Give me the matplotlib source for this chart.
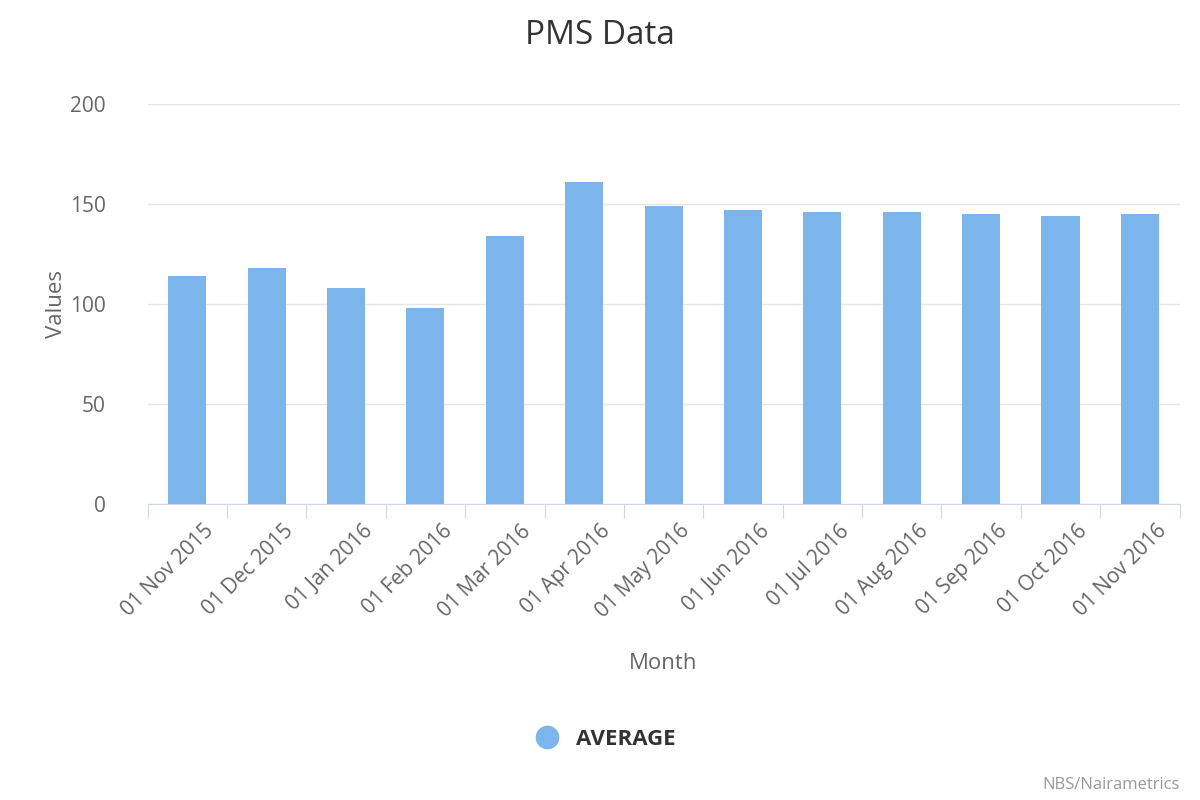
import matplotlib
matplotlib.use("Agg")
import matplotlib.pyplot as plt
from matplotlib.lines import Line2D

plt.rcParams['font.family'] = ['Open Sans', 'DejaVu Sans']

months = ["01 Nov 2015","01 Dec 2015","01 Jan 2016","01 Feb 2016","01 Mar 2016","01 Apr 2016",
          "01 May 2016","01 Jun 2016","01 Jul 2016","01 Aug 2016","01 Sep 2016","01 Oct 2016","01 Nov 2016"]
average = [114, 118, 108, 98, 134, 161, 149, 147, 146, 146, 145, 144, 145]

fig = plt.figure(figsize=(12, 8), dpi=100)
ax = fig.add_axes([0.123, 0.37, 0.86, 0.5])
x = range(len(months))
ax.bar(x, average, width=0.48, color='#7cb5ec', zorder=3)
ax.set_xlim(-0.5, len(months) - 0.5)
ax.set_ylim(0, 200)
ax.set_yticks([0, 50, 100, 150, 200])
ax.grid(axis='y', color='#e6e6e6', lw=1, zorder=0)
for s in ['top', 'right', 'left']:
    ax.spines[s].set_visible(False)
ax.spines['bottom'].set_color('#ccd6eb')
ax.tick_params(axis='y', length=0, labelsize=15, labelcolor='#666666', pad=30)
ax.set_xticks([i - 0.5 for i in range(len(months) + 1)], minor=False)
ax.set_xticklabels([])
ax.tick_params(axis='x', which='major', length=10, color='#ccd6eb')
ax.set_xticks([i + 0.2 for i in x], minor=True)
ax.set_xticklabels(months, minor=True, rotation=45, ha='right', rotation_mode='anchor',
                   fontsize=15, color='#666666')
ax.tick_params(axis='x', which='minor', length=0, pad=12)
ax.set_ylabel('Values', fontsize=16, color='#666666', labelpad=2)
ax.set_xlabel('Month', fontsize=16, color='#666666', labelpad=22)
fig.text(0.5, 0.955, 'PMS Data', ha='center', va='center', fontsize=24, color='#333333')
leg = fig.legend(handles=[Line2D([], [], marker='o', ls='', markersize=16, color='#7cb5ec')],
                 labels=['AVERAGE'], loc='center', bbox_to_anchor=(0.5, 0.076), frameon=False,
                 prop={'size': 16, 'weight': 'bold'}, handletextpad=0.3)
for t in leg.get_texts():
    t.set_color('#333333')
fig.text(0.983, 0.019, 'NBS/Nairametrics', ha='right', va='center', fontsize=12, color='#999999')
fig.savefig('out.png')
